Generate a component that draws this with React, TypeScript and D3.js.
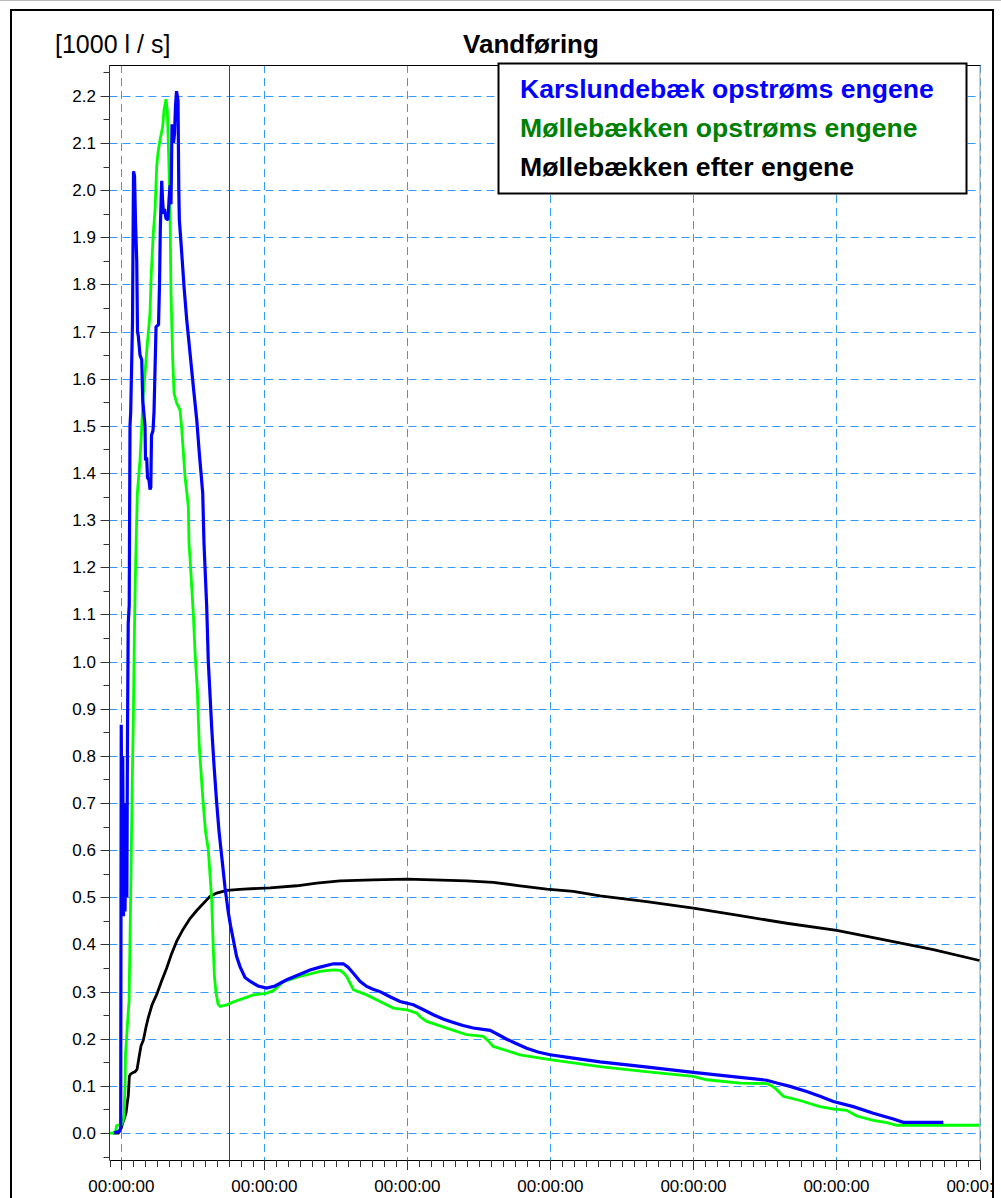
import React from "react";
import * as d3 from "d3";

const W = 1001;
const H = 1198;

// time in hours from first midnight, value in 1000 l/s
const karslundebaek: [number, number][] = [
  [-1.24, 0], [-0.35, 0.004], [-0.12, 0.01], [-0.03, 0.866], [0.13, 0.5], [0.22, 0.8], [0.35, 0.46],
  [0.47, 0.7], [0.6, 0.47], [0.77, 0.62], [0.91, 0.5], [1.02, 0.85], [1.14, 1.08], [1.31, 1.12],
  [1.44, 1.5], [1.56, 1.53], [1.86, 1.72], [2.03, 2.04], [2.2, 2.03], [2.37, 1.93], [2.57, 1.85],
  [2.7, 1.7], [2.84, 1.69], [3.12, 1.65], [3.41, 1.64], [3.57, 1.555], [3.96, 1.5], [4.04, 1.43],
  [4.25, 1.43], [4.38, 1.39], [4.63, 1.385], [4.8, 1.365], [4.93, 1.37], [5.05, 1.48], [5.3, 1.49],
  [5.47, 1.53], [5.64, 1.62], [5.81, 1.71], [6.23, 1.715], [6.39, 1.8], [6.53, 1.92], [6.76, 2.02],
  [6.9, 1.98], [7.06, 1.95], [7.23, 1.96], [7.48, 1.94], [7.82, 1.937], [7.99, 1.98], [8.16, 2.01],
  [8.32, 1.97], [8.49, 2.14], [8.74, 2.1], [8.91, 2.12], [9.08, 2.18], [9.25, 2.21], [9.5, 2.19],
  [9.63, 2.0], [9.72, 1.937], [10.12, 1.867], [10.51, 1.795], [10.96, 1.725], [11.51, 1.655],
  [12.07, 1.583], [12.64, 1.513], [13.07, 1.442], [13.64, 1.358], [13.86, 1.25], [14.31, 1.117],
  [14.58, 1.0], [14.87, 0.93], [15.15, 0.86], [15.54, 0.78], [15.99, 0.7], [16.38, 0.64], [17.0, 0.567],
  [17.39, 0.52], [17.94, 0.468], [18.31, 0.44], [18.78, 0.41], [19.32, 0.375], [19.9, 0.353],
  [20.74, 0.33], [21.58, 0.322], [22.92, 0.312], [24.38, 0.3075], [25.78, 0.312], [27.74, 0.325],
  [29.97, 0.337], [31.65, 0.346], [33.33, 0.352], [35.56, 0.359], [37.24, 0.359], [38.03, 0.352],
  [38.92, 0.339], [40.04, 0.322], [41.16, 0.311], [42.22, 0.305], [43.4, 0.3], [45.07, 0.289],
  [46.75, 0.279], [48.98, 0.272], [50.61, 0.262], [52.34, 0.251], [53.97, 0.242], [55.7, 0.2346],
  [57.32, 0.228], [59.05, 0.2227], [61.86, 0.2177], [63.2, 0.209], [64.66, 0.199], [66.22, 0.19],
  [68.01, 0.18], [69.91, 0.172], [71.92, 0.166], [75.83, 0.159], [80.31, 0.151], [87.58, 0.141],
  [95.97, 0.1286], [103.81, 0.118], [108.29, 0.112], [109.97, 0.106], [112.2, 0.099], [115.0, 0.088],
  [117.23, 0.078], [119.47, 0.067], [122.82, 0.056], [126.18, 0.042], [129.54, 0.0297],
  [131.21, 0.0226], [137.93, 0.0226],
];

const moellebaekkenOp: [number, number][] = [
  [-1.91, 0], [-1.07, 0], [-0.79, 0.0155], [0.05, 0.018], [0.27, 0.025], [0.44, 0.04], [0.6, 0.1],
  [0.69, 0.17], [0.86, 0.2], [1.11, 0.25], [1.28, 0.28], [1.44, 0.41], [1.61, 0.55], [1.78, 0.72],
  [2.0, 0.88], [2.16, 1.046], [2.32, 1.17], [2.5, 1.27], [2.67, 1.357], [3.12, 1.428], [3.41, 1.4986],
  [3.68, 1.569], [3.96, 1.612], [4.35, 1.675], [4.8, 1.739], [4.97, 1.81], [5.19, 1.87], [5.35, 1.909],
  [5.64, 1.958], [5.92, 2.05], [6.14, 2.08], [6.48, 2.107], [6.93, 2.135], [7.15, 2.17], [7.48, 2.193],
  [7.7, 2.17], [7.87, 2.1], [8.04, 2.02], [8.16, 1.958], [8.32, 1.781], [8.61, 1.64], [8.83, 1.569],
  [9.28, 1.548], [9.83, 1.534], [10.08, 1.5], [10.29, 1.463], [10.67, 1.393], [11.23, 1.329],
  [11.34, 1.25], [11.51, 1.22], [12.07, 1.1], [12.35, 1.02], [12.74, 0.94], [13.07, 0.82],
  [13.64, 0.713], [14.11, 0.64], [14.58, 0.601], [14.96, 0.53], [15.15, 0.495], [15.42, 0.389],
  [15.62, 0.33], [15.88, 0.297], [16.21, 0.274], [16.55, 0.2686], [17.67, 0.272], [18.73, 0.278],
  [19.9, 0.283], [22.13, 0.293], [24.38, 0.297], [25.49, 0.302], [27.17, 0.321], [29.97, 0.332],
  [33.33, 0.343], [35.56, 0.346], [36.68, 0.345], [37.27, 0.34], [37.81, 0.332], [38.36, 0.318],
  [38.92, 0.304], [41.16, 0.293], [43.4, 0.279], [45.63, 0.265], [47.88, 0.2615], [49.55, 0.2545],
  [50.28, 0.245], [51.23, 0.2367], [54.59, 0.2227], [57.95, 0.2085], [60.73, 0.205], [61.52, 0.196],
  [62.41, 0.1837], [66.89, 0.166], [71.92, 0.1555], [80.31, 0.141], [87.58, 0.131], [95.97, 0.12],
  [98.22, 0.113], [103.81, 0.106], [108.29, 0.105], [109.18, 0.1], [109.97, 0.092], [111.08, 0.078],
  [113.88, 0.069], [117.23, 0.056], [119.47, 0.051], [121.72, 0.048], [123.4, 0.036], [126.18, 0.0267],
  [128.43, 0.022], [130.11, 0.0165], [144, 0.0165],
];

const moellebaekkenEfter: [number, number][] = [
  [-1.41, 0], [-0.52, 0], [-0.07, 0.01], [0.32, 0.025], [0.77, 0.042], [0.94, 0.06], [1.16, 0.08],
  [1.33, 0.12], [1.53, 0.125], [1.9, 0.128], [2.28, 0.13], [2.62, 0.135], [2.95, 0.16], [3.29, 0.185],
  [3.68, 0.197], [4.13, 0.225], [4.51, 0.245], [5.14, 0.272], [5.92, 0.294], [6.73, 0.322], [7.6, 0.35],
  [8.41, 0.38], [9.28, 0.407], [10.34, 0.432], [11.51, 0.455], [12.64, 0.472], [13.74, 0.487],
  [14.87, 0.502], [15.99, 0.509], [17.67, 0.5146], [20.46, 0.5175], [24.94, 0.52], [29.42, 0.5245],
  [32.77, 0.53], [36.68, 0.535], [42.27, 0.537], [47.88, 0.5387], [52.34, 0.537], [57.95, 0.535],
  [62.41, 0.5316], [66.89, 0.5245], [71.37, 0.5175], [75.83, 0.5125], [80.31, 0.503], [88.15, 0.491],
  [95.97, 0.477], [103.81, 0.461], [111.64, 0.445], [120.04, 0.43], [127.86, 0.41], [136.25, 0.389],
  [144, 0.366],
];

const seriesNames = [
  "Karslundebæk opstrøms engene",
  "Møllebækken opstrøms engene",
  "Møllebækken efter engene",
];
const seriesData = [karslundebaek, moellebaekkenOp, moellebaekkenEfter];
const lineColors = ["#0000ff", "#00ff00", "#000000"];
const legendColors = ["#0000ff", "#008000", "#000000"];
const lineWidths = [3.2, 2.8, 2.8];

const xMajorHours = [0, 24, 48, 72, 96, 120, 144];
const xTickLabels = ["00:00:00", "00:00:00", "00:00:00", "00:00:00", "00:00:00", "00:00:00", "00:00:00"];
const xMinorStep = 2;
const yMajorTicks = [0, 0.1, 0.2, 0.3, 0.4, 0.5, 0.6, 0.7, 0.8, 0.9, 1.0, 1.1, 1.2, 1.3, 1.4, 1.5, 1.6, 1.7, 1.8, 1.9, 2.0, 2.1, 2.2];
const markerHour = 18;
const title = "Vandføring";
const unitLabel = "[1000 l / s]";

const FONT = "'Liberation Sans', Arial, Helvetica, sans-serif";

export default function App() {
  const left = 109.5, right = 979.5, top = 65, bottom = 1160;
  const x = d3.scaleLinear().domain([-2, 144]).range([left, right]);
  const y = d3.scaleLinear().domain([-0.0572, 2.2655]).range([bottom, top]);
  const line = d3
    .line<[number, number]>()
    .x((d) => x(d[0]))
    .y((d) => y(d[1]));

  const minorX = d3.range(-2, 144.001, xMinorStep);
  const minorY = d3.range(-1, 46).map((i) => i * 0.05);
  const px = (v: number) => Math.round(v) + 0.5;
  const gridColor = "#3399ff";

  return (
    <svg
      width={W}
      height={H}
      style={{ position: "absolute", left: 0, top: 0, display: "block", background: "#fff" }}
      fontFamily={FONT}
    >
      <defs>
        <clipPath id="plotClip">
          <rect x={left} y={top} width={right - left + 1} height={bottom - top} />
        </clipPath>
        <clipPath id="frameClip">
          <rect x={11} y={10} width={981} height={H} />
        </clipPath>
      </defs>
      <rect x={0} y={0} width={W} height={H} fill="#fff" />
      <line x1={0} x2={W} y1={0.5} y2={0.5} stroke="#bbb" />
      {/* outer frame */}
      <rect x={11} y={10} width={982} height={H + 20} fill="none" stroke="#000" strokeWidth={2} />

      {/* title & unit */}
      <text x={531} y={53} textAnchor="middle" fontSize={26} fontWeight="bold" fill="#000">
        {title}
      </text>
      <text x={55} y={53} fontSize={25} fill="#000">
        {unitLabel}
      </text>

      {/* horizontal grid */}
      {yMajorTicks.map((v, i) => (
        <line
          key={"hg" + i}
          x1={left}
          x2={right}
          y1={px(y(v))}
          y2={px(y(v))}
          stroke={gridColor}
          strokeDasharray="8,5"
          strokeWidth={1}
        />
      ))}
      {/* vertical grid */}
      {xMajorHours.map((h, i) => (
        <line
          key={"vg" + i}
          x1={px(x(h))}
          x2={px(x(h))}
          y1={top}
          y2={bottom}
          stroke={gridColor}
          strokeDasharray="8,5"
          strokeWidth={1}
        />
      ))}

      {/* plot borders */}
      <line x1={right + 0.5} x2={right + 0.5} y1={top} y2={bottom} stroke="#999" />
      <line x1={left} x2={right + 1} y1={top + 0.5} y2={top + 0.5} stroke="#000" />
      <line x1={left} x2={left} y1={top} y2={bottom} stroke="#333" />
      <line x1={left} x2={right + 1} y1={bottom + 0.5} y2={bottom + 0.5} stroke="#000" />
      {/* time marker */}
      <line x1={px(x(markerHour))} x2={px(x(markerHour))} y1={top} y2={bottom} stroke="#444" strokeWidth={1} />

      {/* data lines */}
      <g clipPath="url(#plotClip)">
        {[2, 1, 0].map((i) => (
          <path
            key={"s" + i}
            d={line(seriesData[i]) || ""}
            fill="none"
            stroke={lineColors[i]}
            strokeWidth={lineWidths[i]}
            strokeLinejoin="miter"
            strokeMiterlimit={2}
          />
        ))}
      </g>

      {/* y axis ticks */}
      {minorY.map((v, i) => (
        <line key={"ym" + i} x1={left - 6} x2={left} y1={px(y(v))} y2={px(y(v))} stroke="#333" />
      ))}
      {yMajorTicks.map((v, i) => (
        <g key={"yt" + i}>
          <line x1={left - 9} x2={left} y1={px(y(v))} y2={px(y(v))} stroke="#333" />
          <text x={96} y={y(v) + 6} textAnchor="end" fontSize={17} fill="#000">
            {v.toFixed(1)}
          </text>
        </g>
      ))}

      {/* x axis ticks */}
      {minorX.map((h, i) => (
        <line key={"xm" + i} x1={px(x(h))} x2={px(x(h))} y1={bottom} y2={bottom + 7} stroke="#333" />
      ))}
      <g clipPath="url(#frameClip)">
        {xMajorHours.map((h, i) => (
          <g key={"xt" + i}>
            <line x1={px(x(h))} x2={px(x(h))} y1={bottom} y2={bottom + 10} stroke="#333" />
            <text x={x(h)} y={1192} textAnchor="middle" fontSize={17} fill="#000">
              {xTickLabels[i]}
            </text>
          </g>
        ))}
      </g>

      {/* legend */}
      <rect x={498.5} y={63.5} width={468} height={130} fill="#fff" stroke="#000" strokeWidth={2} />
      {seriesNames.map((n, i) => (
        <text
          key={"lg" + i}
          x={520}
          y={98 + i * 39}
          fontSize={26.6}
          fontWeight="bold"
          fill={legendColors[i]}
        >
          {n}
        </text>
      ))}
    </svg>
  );
}
